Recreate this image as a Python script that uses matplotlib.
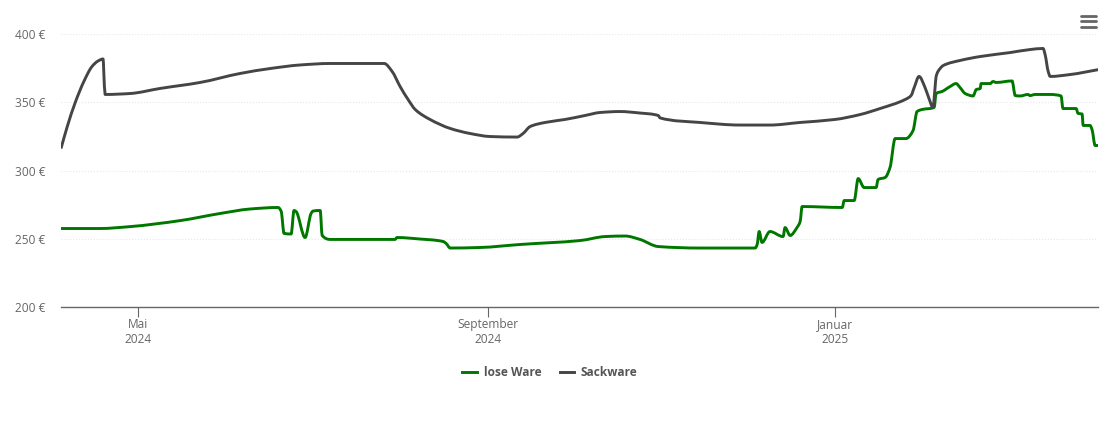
import numpy as np
import matplotlib
matplotlib.use('Agg')
import matplotlib.pyplot as plt
from matplotlib.lines import Line2D
from matplotlib.path import Path
from matplotlib.patches import PathPatch

plt.rcParams['font.family'] = ['Open Sans', 'DejaVu Sans']

# x = Tage seit 1. Mai 2024, y = Preis in Euro
sack_days = [-27.1, -25.0, -22.1, -19.0, -16.2, -14.1, -12.3, -12.1, -11.6, -2.8, 7.7, 21.8, 35.9, 46.4, 56.9,
             67.5, 86.5, 89.3, 92.1, 94.9, 97.4, 102.6, 109.7, 116.7, 123.7, 133.2, 135.3, 137.8, 143.1, 150.1,
             157.1, 162.4, 169.4, 176.4, 182.8, 183.5, 197.5, 211.6, 222.1, 232.7, 245, 253.8, 260.8, 269.6,
             271.7, 272.8, 274.5, 276.6, 278, 279.4, 280.1, 280.5, 281.9, 283, 288.9, 296, 306.5, 313.5, 318.1,
             318.8, 319.9, 320.6, 327.6, 337.8]
sack_price = [316.1, 331.5, 349.8, 365.5, 376.2, 380.2, 381.7, 374, 355.7, 356.4, 360.1, 364.5, 371.1, 374.7, 377.3,
              378.4, 378.4, 372.5, 361.5, 352, 344.7, 337.4, 330.8, 327.1, 324.9, 324.5, 327.1, 332.2, 335.2, 337.4,
              340.3, 342.5, 343.2, 342.1, 340.3, 338.5, 335.2, 333.3, 333.3, 335.2, 337.4, 341, 345.4, 352,
              354.9, 360.8, 368.9, 360.8, 352.7, 346.2, 360, 368.9, 374.7, 376.9, 380.6, 383.5, 386.4, 388.6, 389.4,
              385, 372.5, 368.9, 370.3, 374]

lose_days = [-27.1, -13.4, -2.8, 14.8, 28.8, 39.4, 49.2, 50.3, 51.3, 53.8, 54.8, 55.5, 58.7, 60.8, 61.5, 64, 64.7,
             67.5, 90.3, 91, 99.1, 107.2, 108.3, 109.7, 120.2, 134.3, 155.4, 164.1, 171.2, 176.4, 182.8, 197.5,
             216.9, 217.6, 218.3, 219.3, 222.1, 226.7, 227.4, 229.2, 231.6, 232.7, 233.4, 247.5, 248.2, 251.7,
             253.1, 255.2, 259.4, 260.1, 262.6, 264.3, 266.1, 269.9, 272.4, 273.8, 275.6, 279.8, 280.5, 282.6,
             285.4, 287.5, 288.9, 290.7, 293.5, 294.6, 296, 296.3, 299.5, 300.5, 301.6, 307.2, 308.3, 310, 312.8,
             313.5, 315.3, 320.6, 324.4, 325.1, 329.7, 330.4, 331.8, 332.2, 334.6, 335.3, 336.4, 337.4]
lose_price = [257.5, 257.5, 258.9, 263.3, 268.5, 271.8, 272.9, 270, 253.9, 253.5, 270.7, 270, 250.9, 268.5, 270.3,
              270.7, 252.4, 249.5, 249.5, 250.9, 249.8, 248, 246.5, 243.2, 243.6, 245.8, 248.7, 251.6, 252, 249.5,
              244.3, 243.2, 243.2, 245.8, 255.3, 247.3, 255.3, 251.6, 258.2, 252.4, 258.2, 262.6, 273.6, 272.9,
              278, 278, 294.1, 287.5, 287.5, 293.4, 294.9, 302.2, 323.4, 323.4, 329.3, 343.2, 344.7, 346.2, 356.4,
              357.9, 361.5, 363.7, 360.8, 356.4, 354.6, 359.3, 360.1, 363.7, 363.7, 365.2, 364.5, 365.6, 354.9,
              354.6, 355.7, 354.9, 355.7, 355.7, 354.6, 345.4, 345.4, 341.8, 341.4, 333, 333, 330, 318.3, 318.3]

tick_days = [0, 123, 245]
tick_labels = ['Mai\n2024', 'September\n2024', 'Januar\n2025']
y_ticks = [200, 250, 300, 350, 400]
y_labels = ['200 €', '250 €', '300 €', '350 €', '400 €']

GREEN = '#007800'
GREY = '#454545'
LW = 2.1


def spline_path(xs, ys):
    # monotoner Spline als Bezier-Pfad, damit die Kurve rund wird
    x = np.array(xs, dtype=float)
    y = np.array(ys, dtype=float)
    h = np.diff(x)
    s = np.diff(y) / h
    m = np.zeros(len(x))
    m[0], m[-1] = s[0], s[-1]
    for i in range(1, len(x) - 1):
        if s[i - 1] * s[i] > 0:
            w1 = 2 * h[i] + h[i - 1]
            w2 = h[i] + 2 * h[i - 1]
            m[i] = (w1 + w2) / (w1 / s[i - 1] + w2 / s[i])
    verts = [(x[0], y[0])]
    codes = [Path.MOVETO]
    for i in range(len(h)):
        verts.append((x[i] + h[i] / 3, y[i] + m[i] * h[i] / 3))
        verts.append((x[i + 1] - h[i] / 3, y[i + 1] - m[i + 1] * h[i] / 3))
        verts.append((x[i + 1], y[i + 1]))
        codes += [Path.CURVE4] * 3
    return Path(verts, codes)


W, H = 1110, 422
fig = plt.figure(figsize=(W / 100, H / 100), dpi=100)
ax = fig.add_axes([61 / W, 1 - 307 / H, 1037 / W, 273 / H])

ax.add_patch(PathPatch(spline_path(lose_days, lose_price), fill=False, edgecolor=GREEN, lw=LW,
                       joinstyle='round', zorder=3))
ax.add_patch(PathPatch(spline_path(sack_days, sack_price), fill=False, edgecolor=GREY, lw=LW,
                       joinstyle='round', zorder=3))

ax.set_xlim(-27.1, 337.4)
ax.set_ylim(200, 400)
ax.set_xticks(tick_days)
ax.set_xticklabels(tick_labels, linespacing=1.25)
ax.set_yticks(y_ticks)
ax.set_yticklabels(y_labels)
ax.tick_params(axis='x', length=7, width=0.8, color='#666666', labelcolor='#666666', labelsize=8.6, pad=0.8)
ax.tick_params(axis='y', length=0, labelcolor='#666666', labelsize=8.6, pad=11)
ax.grid(axis='y', color='#e8e8e8', lw=0.8, ls=':')
ax.set_axisbelow(True)

for s in ['top', 'right', 'left']:
    ax.spines[s].set_visible(False)
ax.spines['bottom'].set_color('#666666')
ax.spines['bottom'].set_linewidth(1.0)

handles = [Line2D([], [], color=GREEN, lw=LW, label='lose Ware'),
           Line2D([], [], color=GREY, lw=LW, label='Sackware')]
leg = fig.legend(handles=handles, loc='center', bbox_to_anchor=(550 / W, 1 - 372.5 / H), ncol=2,
                 frameon=False, handlelength=1.2, handletextpad=0.58, columnspacing=1.55,
                 prop={'size': 8.6, 'weight': 'bold'})
for t in leg.get_texts():
    t.set_color('#555555')

# Menü-Symbol oben rechts
for py in [16, 21.3, 26.7]:
    fig.add_artist(Line2D([1081 / W, 1096 / W], [1 - py / H, 1 - py / H], color='#666666', lw=2.0,
                          solid_capstyle='round'))

fig.savefig('out.png', dpi=100)
